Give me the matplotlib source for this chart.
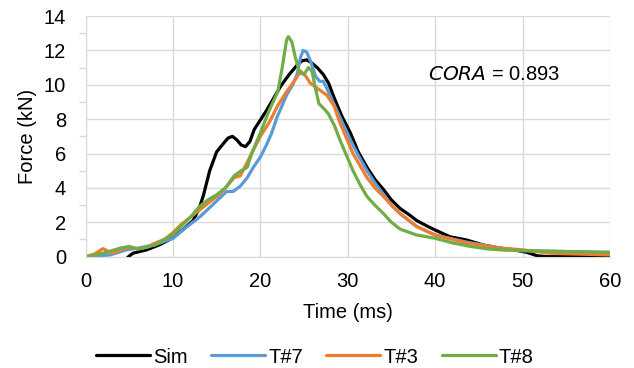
import numpy as np
import matplotlib.pyplot as plt
from matplotlib.ticker import MultipleLocator

plt.rcParams['font.family'] = ['Liberation Sans', 'DejaVu Sans']

# ---- data (time in ms, force in kN) ----
sim_t = [4.8, 5.4, 7.0, 8.5, 10.0, 11.2, 12.3, 13.0, 13.5, 14.2, 15.0, 15.8, 16.3, 16.8,
         17.3, 17.8, 18.3, 18.8, 19.3, 20.7, 22.3, 23.3, 23.8, 24.3, 24.8, 25.3, 25.8,
         26.5, 27.2, 27.8, 28.4, 29.3, 30.3, 31.2, 32.2, 33.1, 34.1, 35.0, 36.0, 37.0,
         37.9, 39.0, 40.0, 41.7, 43.6, 45.5, 47.4, 49.0, 50.5, 51.7, 53.0, 60.0]
sim_f = [-0.05, 0.2, 0.4, 0.7, 1.1, 1.6, 2.1, 2.8, 3.6, 5.0, 6.1, 6.6, 6.9, 7.0,
         6.8, 6.5, 6.4, 6.7, 7.4, 8.5, 9.9, 10.6, 10.9, 11.2, 11.4, 11.45, 11.3,
         11.0, 10.6, 10.1, 9.3, 8.2, 7.2, 6.1, 5.2, 4.5, 3.9, 3.3, 2.8, 2.45,
         2.1, 1.8, 1.55, 1.16, 0.97, 0.68, 0.5, 0.4, 0.25, 0.05, 0.0, 0.0]

t7_t = [0.0, 2.8, 4.7, 6.0, 8.0, 10.0, 11.5, 13.1, 14.5, 16.1, 16.9, 17.7, 18.5, 19.2,
        20.0, 20.7, 21.3, 21.9, 23.0, 23.7, 24.2, 24.6, 24.9, 25.3, 25.8, 26.3, 26.8,
        27.2, 27.6, 28.4, 29.3, 30.3, 31.2, 32.2, 33.1, 34.1, 35.0, 36.0, 37.9, 40.0,
        43.6, 47.4, 50.0, 55.0, 60.0]
t7_f = [0.0, 0.1, 0.4, 0.5, 0.7, 1.07, 1.7, 2.33, 3.0, 3.78, 3.8, 4.1, 4.6, 5.2,
        5.8, 6.5, 7.2, 8.1, 9.4, 10.0, 10.6, 11.6, 12.0, 11.9, 11.3, 10.5, 10.2,
        10.2, 9.8, 8.9, 7.9, 6.8, 5.9, 5.0, 4.3, 3.6, 3.0, 2.5, 1.75, 1.26,
        0.85, 0.5, 0.35, 0.3, 0.25]

t3_t = [0.0, 1.0, 2.0, 3.0, 4.0, 5.0, 6.0, 7.0, 8.0, 9.0, 10.0, 11.0, 12.0, 13.0, 14.0,
        15.0, 16.0, 17.0, 17.7, 18.0, 19.0, 20.0, 21.0, 22.0, 23.0, 24.0, 24.6, 25.2,
        25.7, 26.5, 27.6, 28.4, 29.1, 30.6, 31.4, 32.2, 33.1, 34.1, 35.0, 36.0, 37.9,
        40.0, 43.6, 47.4, 50.0, 53.2, 60.0]
t3_f = [0.0, 0.15, 0.47, 0.2, 0.4, 0.55, 0.45, 0.55, 0.8, 1.0, 1.4, 1.9, 2.3, 2.7, 3.1,
        3.5, 4.0, 4.6, 4.7, 5.0, 6.0, 7.0, 7.8, 8.8, 9.6, 10.3, 10.8, 10.5,
        10.1, 9.8, 9.4, 8.8, 7.8, 6.0, 5.3, 4.6, 4.0, 3.5, 3.0, 2.5, 1.75,
        1.26, 0.8, 0.5, 0.4, 0.2, 0.1]

t8_t = [0.0, 2.0, 4.0, 5.0, 6.0, 7.0, 8.0, 9.0, 10.0, 11.0, 12.0, 13.0, 14.0, 15.0, 16.0,
        17.0, 17.8, 18.5, 19.0, 20.0, 21.0, 22.0, 22.5, 23.0, 23.2, 23.6, 24.0, 24.5,
        25.0, 25.5, 25.9, 26.3, 26.7, 27.3, 27.8, 28.5, 29.1, 30.6, 31.4, 32.2, 33.1,
        34.1, 35.0, 36.0, 37.9, 40.0, 42.0, 44.0, 46.0, 48.0, 50.0, 55.0, 60.0]
t8_f = [0.0, 0.2, 0.5, 0.6, 0.45, 0.55, 0.7, 1.0, 1.3, 1.8, 2.3, 2.9, 3.3, 3.6, 4.0,
        4.7, 5.0, 5.2, 6.0, 7.2, 8.5, 9.6, 11.0, 12.6, 12.8, 12.5, 11.6, 10.7,
        10.6, 11.0, 10.8, 9.8, 8.9, 8.6, 8.3, 7.6, 6.8, 5.0, 4.2, 3.5, 3.0,
        2.5, 2.0, 1.6, 1.26, 1.07, 0.8, 0.6, 0.45, 0.38, 0.35, 0.3, 0.25]

series = [("Sim", sim_t, sim_f, "black"),
          ("T#7", t7_t, t7_f, "#5B9BD5"),
          ("T#3", t3_t, t3_f, "#ED7D31"),
          ("T#8", t8_t, t8_f, "#70AD47")]

fs = 14.5
fig = plt.figure(figsize=(6.34, 3.68), dpi=100)
ax = fig.add_axes([0.135, 0.3025, 0.827, 0.654])

for name, t, f, c in series:
    ax.plot(t, f, color=c, lw=2.3, label=name, solid_capstyle="round",
            solid_joinstyle="round")

ax.set_xlim(0, 60)
ax.set_ylim(0, 14)
ax.xaxis.set_major_locator(MultipleLocator(10))
ax.yaxis.set_major_locator(MultipleLocator(2))
ax.yaxis.set_minor_locator(MultipleLocator(1))
ax.grid(True, which="major", color="#D9D9D9", lw=1.0)
ax.set_axisbelow(True)
for s in ax.spines.values():
    s.set_visible(False)
ax.spines["left"].set_visible(True)
ax.spines["bottom"].set_visible(True)
ax.spines["left"].set_color("#D9D9D9")
ax.spines["bottom"].set_color("#D9D9D9")
ax.tick_params(which="major", length=0, labelsize=fs)
ax.tick_params(axis="x", which="major", pad=11)
ax.tick_params(axis="y", which="major", pad=14)
ax.tick_params(axis="y", which="minor", length=5, color="#D9D9D9", width=1)
ax.tick_params(axis="x", which="minor", length=0)

ax.set_xlabel("Time (ms)", fontsize=fs, labelpad=9)
ax.set_ylabel("Force (kN)", fontsize=fs, labelpad=5)

ax.text(39.2, 10.57, r"$\it{CORA}$ = 0.893", fontsize=fs, va="center", ha="left")

ax.legend(loc="center", bbox_to_anchor=(0.437, -0.417), ncol=4, frameon=False,
          fontsize=fs, handlelength=2.7, columnspacing=1.15, handletextpad=0.15)

fig.savefig("out.png", dpi=100)
